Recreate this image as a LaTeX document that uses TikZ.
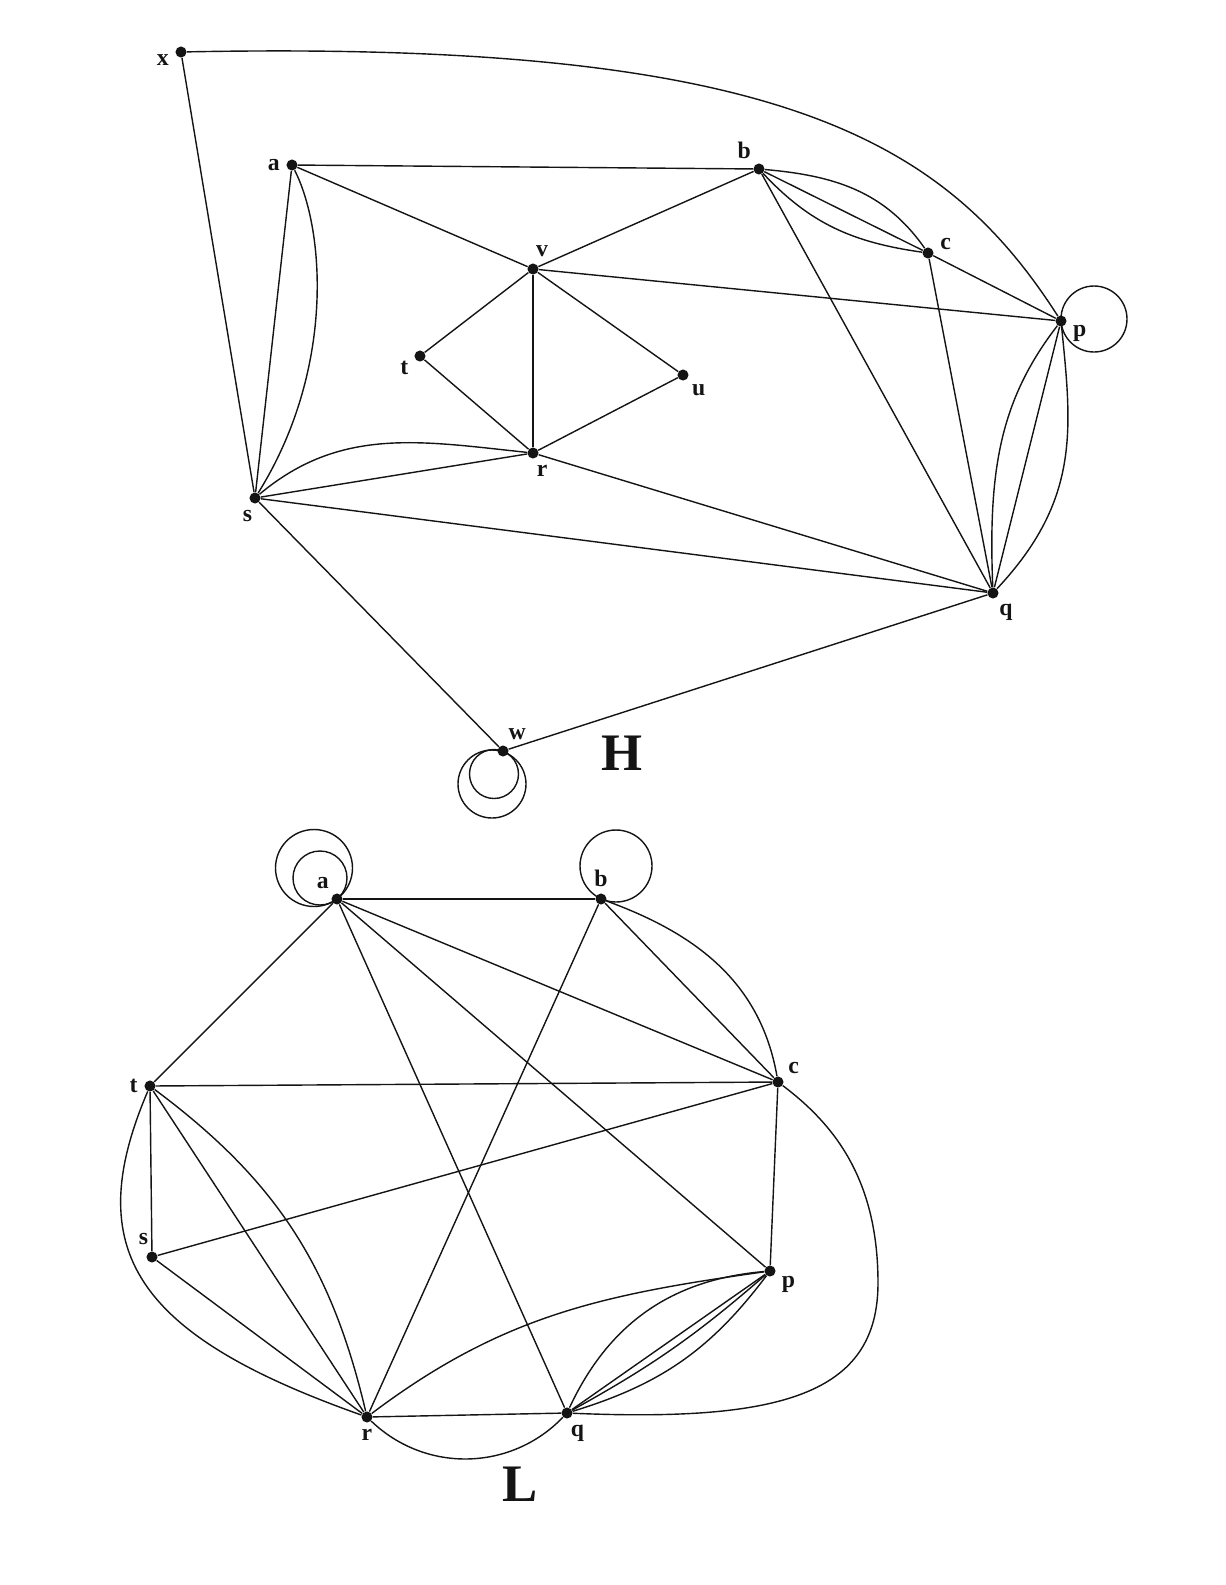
\documentclass[tikz,border=0pt]{standalone}
\usepackage{fontspec}
\setmainfont{Liberation Serif}
\usepackage{tikz}
\usepackage{xcolor}
\usetikzlibrary{positioning, calc}
\definecolor{graphInk}{HTML}{141414}

\begin{document}
\begin{tikzpicture}[x=0.2mm, y=0.2mm,
    vtx/.style={circle, fill=graphInk, inner sep=0pt, minimum size=6.3pt},
    lbl/.style={font=\fontsize{13.5}{15}\selectfont\bfseries, text=graphInk, inner sep=1pt},
    link/.style={line width=0.8pt, draw=graphInk},
    title/.style={font=\fontsize{30}{34}\selectfont\bfseries, text=graphInk}]
  \useasboundingbox (0,0) rectangle (1225,-1585);

  % graph H
  \foreach \nm/\px/\py/\ang in {x/181/52/185, a/292/165/180, b/759/169/126, c/928/253/5,
      v/533/269/85, t/420/356/200, u/683/375/-47, r/533/453/-80, s/255/498/-95,
      p/1061/321/-10, q/993/593/-65, w/503/751/70}{
    \node[vtx, label={[lbl, label distance=2.5pt]\ang:\nm}] (H\nm) at (\px,-\py) {};
  }
  \foreach \from/\to in {x/s, a/b, a/v, a/s, b/v, b/c, b/q, c/p, c/q, v/p, v/t, v/u,
      v/r, t/r, u/r, r/s, r/q, s/q, s/w, w/q, p/q}{
    \draw[link] (H\from) -- (H\to);
  }
  \draw[link] (Hx) .. controls (780,-40) and (945,-140) .. (Hp);
  \draw[link] (Ha) .. controls (325,-230) and (335,-370) .. (Hs);
  \draw[link] (Hb) to[out=-5, in=125] (Hc);
  \draw[link] (Hb) to[out=-47, in=172] (Hc);
  \draw[link] (Hs) to[out=40, in=174] (Hr);
  \draw[link] (Hp) .. controls (1000,-400) and (988,-470) .. (Hq);
  \draw[link] (Hp) .. controls (1072,-430) and (1080,-500) .. (Hq);
  % loops
  \draw[link] ([shift={(33,2)}]Hp.center) circle[radius=33];
  \draw[link] ([shift={(-11,-33)}]Hw.center) circle[radius=34];
  \draw[link] ([shift={(-9,-23)}]Hw.center) circle[radius=24.5];
  \node[title] (Htitle) at (622,-753) {H};

  % graph L
  \foreach \nm/\px/\py/\ang in {a/337/899/127, b/601/899/90, t/150/1086/180, c/778/1082/37,
      s/152/1257/100, p/770/1271/-18, r/367/1417/-90, q/567/1413/-80}{
    \node[vtx, label={[lbl, label distance=2.5pt]\ang:\nm}] (L\nm) at (\px,-\py) {};
  }
  \foreach \from/\to in {a/b, a/t, a/c, a/p, a/q, b/r, b/c, t/c, t/s, t/r, s/c, s/r,
      r/q, c/p, q/p}{
    \draw[link] (L\from) -- (L\to);
  }
  \draw[link] (Lb) to[out=-20, in=100] (Lc);
  \draw[link] (Lt) to[bend left=20] (Lr);
  \draw[link] (Lt) .. controls (80,-1250) and (135,-1335) .. (Lr);
  \draw[link] (Lr) to[bend right=45] (Lq);
  \draw[link] (Lr) to[out=37, in=188] (Lp);
  \draw[link] (Lq) to[bend left=30] (Lp);
  \draw[link] (Lq) to[bend right=6] (Lp);
  \draw[link] (Lq) to[bend right=18] (Lp);
  \coordinate (Lqcbulge) at (878,-1283);
  \draw[link] (Lq) .. controls (780,-1422) and (878,-1395) .. (Lqcbulge)
                   .. controls (878,-1180) and (835,-1125) .. (Lc);
  % loops
  \draw[link] ([shift={(-23,31)}]La.center) circle[radius=38.5];
  \draw[link] ([shift={(-17,21)}]La.center) circle[radius=27];
  \draw[link] ([shift={(15,33)}]Lb.center) circle[radius=36];
  \node[title] (Ltitle) at (520,-1484) {L};
\end{tikzpicture}
\end{document}
